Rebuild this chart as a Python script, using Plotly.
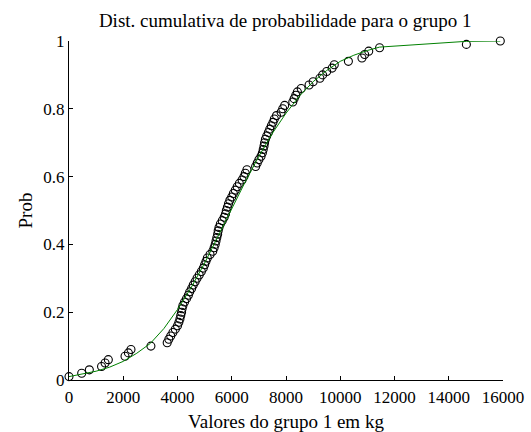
import plotly.graph_objects as go

# Empirical CDF points (values in kg, cumulative probability)
valores = [
    0, 468, 750, 1200, 1330, 1450, 2065, 2190, 2285, 3020,
    3620, 3680, 3750, 3830, 3920, 4000, 4050, 4090, 4120, 4150,
    4170, 4200, 4260, 4330, 4400, 4450, 4520, 4580, 4650, 4720,
    4800, 4880, 4950, 5000, 5050, 5100, 5200, 5300, 5350, 5390,
    5420, 5450, 5480, 5500, 5530, 5580, 5650, 5720, 5770, 5800,
    5840, 5880, 5930, 6000, 6060, 6130, 6200, 6280, 6380, 6450,
    6500, 6560, 6880, 6940, 7000, 7080, 7130, 7160, 7190, 7210,
    7240, 7290, 7350, 7400, 7460, 7520, 7570, 7650, 7820, 7880,
    7950, 8250, 8300, 8360, 8420, 8560, 8850, 9000, 9250, 9350,
    9500, 9700, 9780, 10300, 10800, 10900, 11050, 11450, 14650, 15900,
]
prob = [
    0.01, 0.02, 0.03, 0.04, 0.05, 0.06, 0.07, 0.08, 0.09, 0.10,
    0.11, 0.12, 0.13, 0.14, 0.15, 0.16, 0.17, 0.18, 0.19, 0.20,
    0.21, 0.22, 0.23, 0.24, 0.25, 0.26, 0.27, 0.28, 0.29, 0.30,
    0.31, 0.32, 0.33, 0.34, 0.35, 0.36, 0.37, 0.38, 0.39, 0.40,
    0.41, 0.42, 0.43, 0.44, 0.45, 0.46, 0.47, 0.48, 0.49, 0.50,
    0.51, 0.52, 0.53, 0.54, 0.55, 0.56, 0.57, 0.58, 0.59, 0.60,
    0.61, 0.62, 0.63, 0.64, 0.65, 0.66, 0.67, 0.68, 0.69, 0.70,
    0.71, 0.72, 0.73, 0.74, 0.75, 0.76, 0.77, 0.78, 0.79, 0.80,
    0.81, 0.82, 0.83, 0.84, 0.85, 0.86, 0.87, 0.88, 0.89, 0.90,
    0.91, 0.92, 0.93, 0.94, 0.95, 0.96, 0.97, 0.98, 0.99, 1.00,
]

# Fitted cumulative curve (green line)
curva_x = [0, 500, 1000, 1500, 2000, 2500, 3000, 3500, 4000, 4500,
           5000, 5500, 6000, 6500, 7000, 7500, 8000, 8500, 9000, 9500,
           10000, 10500, 11000, 11450, 14650, 15900]
curva_y = [0.010, 0.017, 0.026, 0.038, 0.055, 0.079, 0.108, 0.152, 0.208, 0.272,
           0.345, 0.425, 0.505, 0.585, 0.660, 0.728, 0.787, 0.838, 0.880, 0.913,
           0.940, 0.958, 0.972, 0.982, 0.999, 1.000]

x_ticks = [0, 2000, 4000, 6000, 8000, 10000, 12000, 14000, 16000]
x_tick_text = ["0", "2000", "4000", "6000", "8000", "10000", "12000", "14000", "16000"]
y_ticks = [0, 0.2, 0.4, 0.6, 0.8, 1]
y_tick_text = ["0", "0.2", "0.4", "0.6", "0.8", "1"]

FONT = "Liberation Serif"

fig = go.Figure()
fig.add_trace(go.Scatter(
    x=valores, y=prob, mode="markers",
    marker=dict(symbol="circle-open", size=8, color="black", line=dict(width=1.1)),
    cliponaxis=False, showlegend=False,
))
fig.add_trace(go.Scatter(
    x=curva_x, y=curva_y, mode="lines",
    line=dict(color="rgb(0,128,0)", width=1),
    cliponaxis=False, showlegend=False,
))

fig.update_layout(
    width=531, height=432,
    margin=dict(l=69, r=28, t=41, b=52, autoexpand=False),
    paper_bgcolor="white", plot_bgcolor="white",
    font=dict(family=FONT, size=17, color="black"),
    title=dict(text="Dist. cumulativa de probabilidade para o grupo 1",
               font=dict(family=FONT, size=19, color="black"),
               x=0.537, xanchor="center", y=0.952, yanchor="middle"),
    xaxis=dict(range=[0, 16000], tickvals=x_ticks, ticktext=x_tick_text,
               ticks="inside", ticklen=4, ticklabelstandoff=2, automargin=False,
               tickcolor="black", showline=True, linecolor="black", linewidth=1,
               showgrid=False, zeroline=False,
               tickfont=dict(family=FONT, size=17, color="black"),
               title=dict(text="Valores do grupo 1 em kg", standoff=10,
                          font=dict(family=FONT, size=19, color="black"))),
    yaxis=dict(range=[0, 1], tickvals=y_ticks, ticktext=y_tick_text,
               ticks="inside", ticklen=4, tickcolor="black", automargin=False,
               showline=True, linecolor="black", linewidth=1,
               showgrid=False, zeroline=False,
               tickfont=dict(family=FONT, size=17, color="black"),
               title=dict(text="Prob", standoff=5,
                          font=dict(family=FONT, size=19, color="black"))),
)

fig.write_html("out.html")
